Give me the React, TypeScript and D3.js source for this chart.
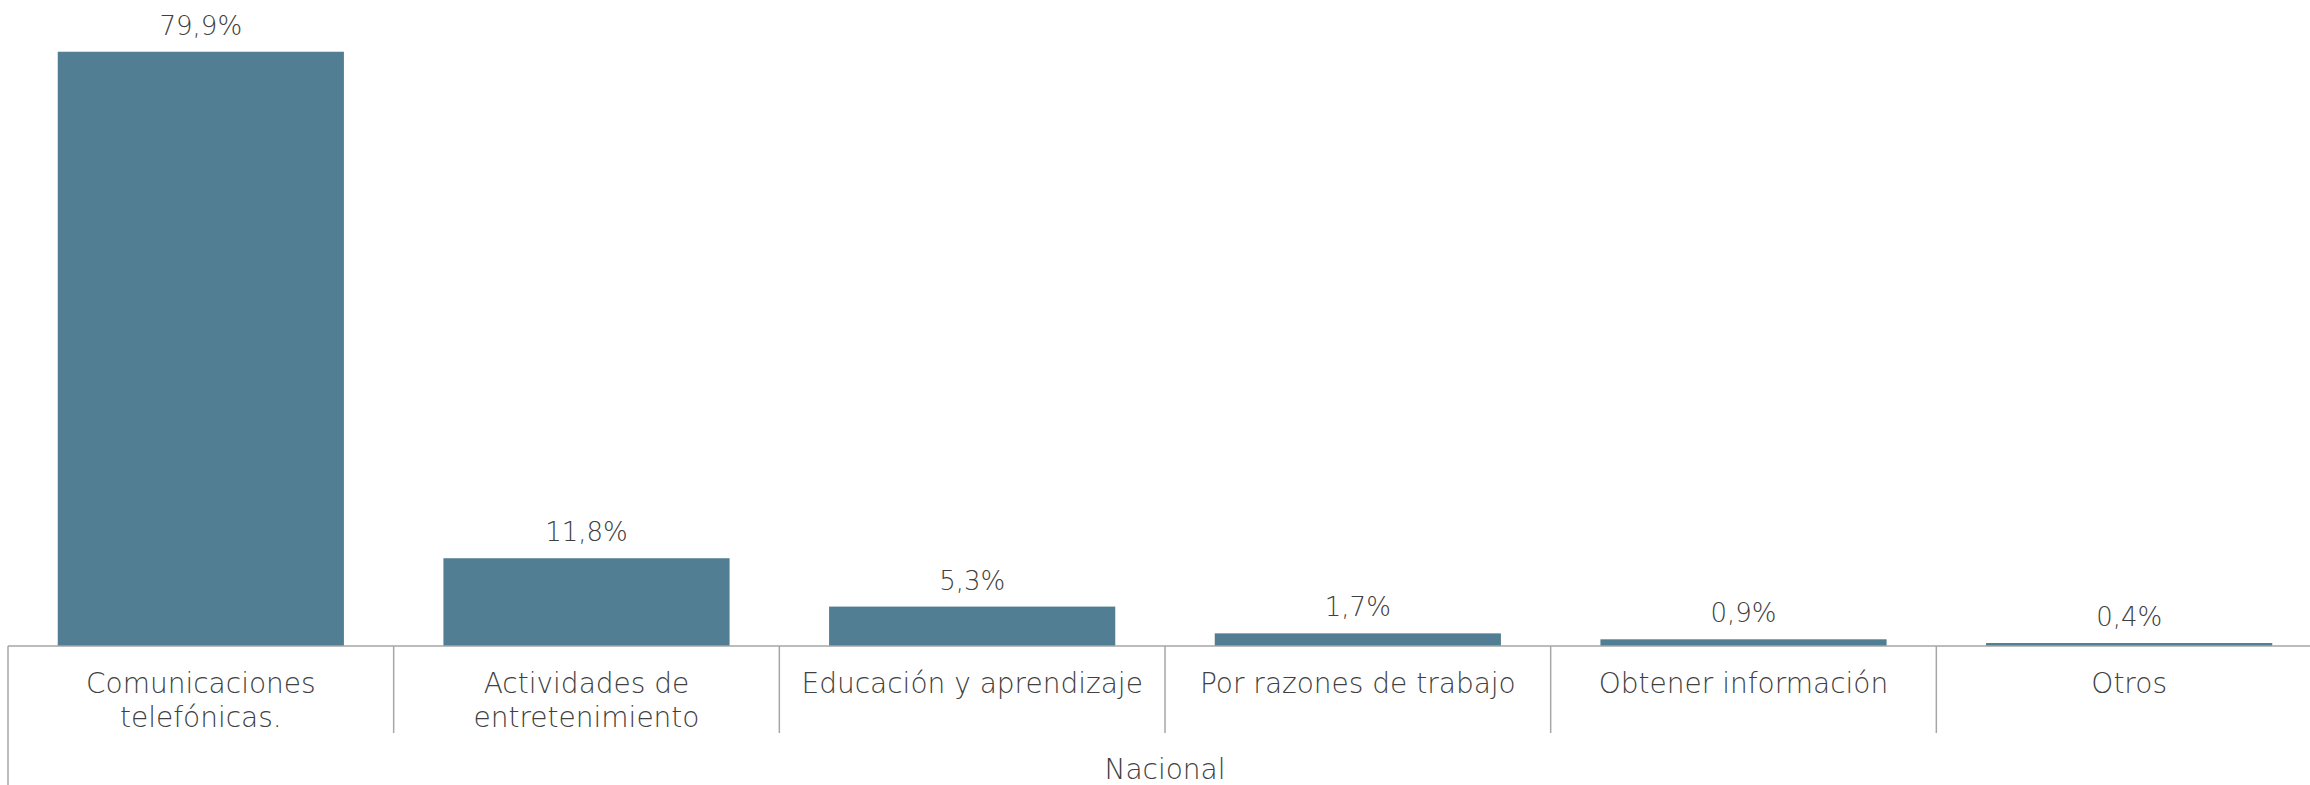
import * as d3 from "d3";

// Uso principal del teléfono celular - Nacional
const categories = [
  "Comunicaciones telefónicas.",
  "Actividades de entretenimiento",
  "Educación y aprendizaje",
  "Por razones de trabajo",
  "Obtener información",
  "Otros",
];
// how each category label wraps in the original
const labelLines = [
  ["Comunicaciones", "telefónicas."],
  ["Actividades de", "entretenimiento"],
  ["Educación y aprendizaje"],
  ["Por razones de trabajo"],
  ["Obtener información"],
  ["Otros"],
];
const values = [79.9, 11.8, 5.3, 1.7, 0.9, 0.4];
const groupLabel = "Nacional";

const fmt = (v: number) => v.toFixed(1).replace(".", ",") + "%";

export default function App() {
  const width = 2310;
  const height = 785;
  const axisY = 646;
  const font = "'Century Gothic', 'DejaVu Sans', sans-serif";
  const textColor = "#404040";

  const x = d3.scaleBand<string>().domain(categories).range([8, 2322]).padding(0);
  const barW = x.bandwidth() * 0.742;
  const y = d3.scaleLinear().domain([0, 80]).range([axisY, 51]);

  // category boundaries (skip the outer right one, off the page)
  const seps = categories.slice(1).map((c) => x(c)!);

  return (
    <svg
      width={width}
      height={height}
      style={{ position: "absolute", left: 0, top: 0, background: "#fff" }}
    >
      {/* bars */}
      {categories.map((c, i) => {
        const cx = x(c)! + x.bandwidth() / 2;
        return (
          <g key={c}>
            <rect
              x={cx - barW / 2}
              y={y(values[i])}
              width={barW}
              height={axisY - y(values[i])}
              fill="#517e92"
            />
            <text
              x={cx}
              y={y(values[i]) - 17}
              textAnchor="middle"
              fontFamily={font}
              fontSize={26}
              fontWeight={300}
              fill={textColor}
            >
              {fmt(values[i])}
            </text>
            {labelLines[i].map((ln, j) => (
              <text
                key={j}
                x={cx}
                y={693 + j * 34}
                textAnchor="middle"
                fontFamily={font}
                fontSize={28}
                fontWeight={300}
                fill={textColor}
              >
                {ln}
              </text>
            ))}
          </g>
        );
      })}

      {/* axis line */}
      <line x1={8} x2={width} y1={axisY} y2={axisY} stroke="#a6a6a6" strokeWidth={1.5} />
      {/* left edge of the grouping */}
      <line x1={8} x2={8} y1={axisY} y2={height} stroke="#a6a6a6" strokeWidth={1.5} />
      {/* category separators */}
      {seps.map((sx, i) => (
        <line key={i} x1={sx} x2={sx} y1={axisY} y2={733} stroke="#a6a6a6" strokeWidth={1.5} />
      ))}

      <text
        x={(x.range()[0] + x.range()[1]) / 2}
        y={779}
        textAnchor="middle"
        fontFamily={font}
        fontSize={28}
        fontWeight={300}
        fill={textColor}
      >
        {groupLabel}
      </text>
    </svg>
  );
}
